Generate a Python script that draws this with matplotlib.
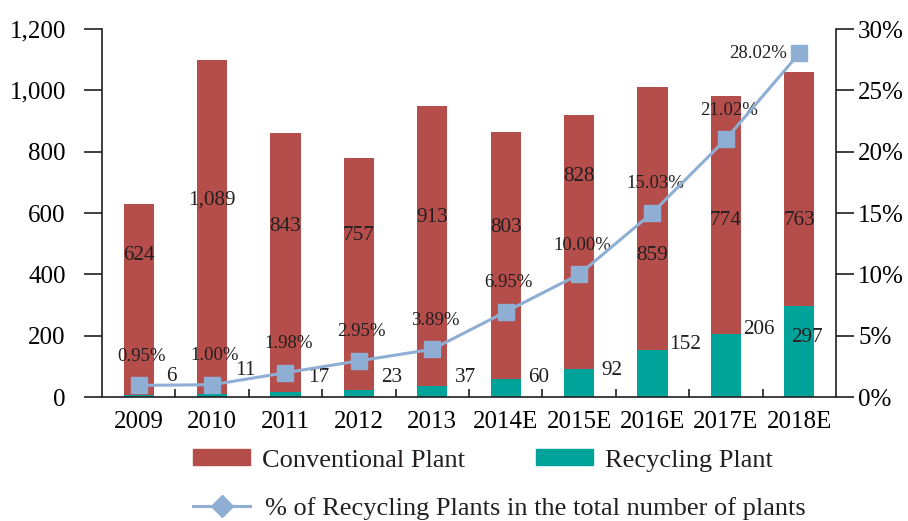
import matplotlib
matplotlib.use("Agg")
import matplotlib.pyplot as plt
import matplotlib.ticker as mtick
from matplotlib.patches import Patch
from matplotlib.lines import Line2D
import numpy as np

plt.rcParams['font.family'] = ['Liberation Serif', 'DejaVu Serif']
plt.rcParams['text.color'] = '#231f20'

# data
years = ['2009', '2010', '2011', '2012', '2013', '2014E', '2015E', '2016E', '2017E', '2018E']
conventional = [624, 1089, 843, 757, 913, 803, 828, 859, 774, 763]
recycling = [6, 11, 17, 23, 37, 60, 92, 152, 206, 297]
pct = [0.95, 1.00, 1.98, 2.95, 3.89, 6.95, 10.00, 15.03, 21.02, 28.02]

# where the labels sit (data units, as placed in the original)
conv_label_y = [460, 642, 557, 528, 584, 554, 720, 460, 577, 574]
rec_label_y = [68, 88, 62, 62, 62, 62, 88, 170, 220, 195]

red = '#b54d4b'
teal = '#00a39a'
blue = '#8eaed4'
dark = '#231f20'

fig = plt.figure(figsize=(9.08, 5.21), dpi=100)
ax = fig.add_axes([0.1123, 0.238, 0.8084, 0.7063])
ax2 = ax.twinx()

x = np.arange(len(years))
ax.bar(x, recycling, width=0.41, color=teal, zorder=2)
ax.bar(x, conventional, width=0.41, bottom=recycling, color=red, zorder=2)

ax.set_xlim(-0.5, len(years) - 0.5)
ax.set_ylim(0, 1200)
ax.yaxis.set_major_locator(mtick.MultipleLocator(200))
ax.yaxis.set_major_formatter(mtick.FuncFormatter(lambda v, p: f'{int(v):,}'))

# conventional labels
for i, v in enumerate(conventional):
    ax.text(x[i], conv_label_y[i], f'{v:,}', ha='center', va='center', fontsize=15.3, zorder=5)

# recycling labels, right of bars
for i, v in enumerate(recycling):
    dx = 0.1 if i == len(years) - 1 else 0.45
    ax.text(x[i] + dx, rec_label_y[i], str(v), ha='center', va='center', fontsize=15.3, zorder=5)

# percentage line
ax2.plot(x, pct, color=blue, lw=2.2, marker='s', markersize=11.5, zorder=4)
ax2.set_ylim(0, 30)
ax2.yaxis.set_major_locator(mtick.MultipleLocator(5))
ax2.yaxis.set_major_formatter(mtick.FuncFormatter(lambda v, p: f'{int(v)}%'))
for i, v in enumerate(pct):
    if i == len(pct) - 1:
        ax2.annotate(f'{v:.2f}%', (x[i], v), xytext=(-9, 0), textcoords='offset points',
                     ha='right', va='center', fontsize=13.5)
    else:
        ax2.annotate(f'{v:.2f}%', (x[i], v), xytext=(2, 21), textcoords='offset points',
                     ha='center', va='center', fontsize=13.5)

# ticks / spines
for a in (ax, ax2):
    a.spines['top'].set_visible(False)
    for s in a.spines.values():
        s.set_color(dark)
        s.set_linewidth(1.2)
ax.spines['right'].set_visible(False)
ax2.spines['left'].set_visible(False)
ax2.spines['bottom'].set_visible(False)

ax.set_xticks(x[:-1] + 0.5)
ax.set_xticklabels([])
ax.set_xticks(x, minor=True)
ax.set_xticklabels(years, minor=True, fontsize=18)
ax.tick_params(axis='x', which='major', direction='in', length=6, width=1.2, color=dark)
ax.tick_params(axis='x', which='minor', length=0, pad=10)
ax.tick_params(axis='y', direction='out', length=13, width=1.2, color=dark, labelsize=18, pad=13)
ax2.tick_params(axis='y', direction='out', length=13, width=1.2, color=dark, labelsize=18, pad=3)

# legends
h1 = [Patch(color=red), Patch(color=teal)]
leg1 = fig.legend(h1, ['Conventional Plant', 'Recycling Plant'], ncol=2, loc='upper left',
                  bbox_to_anchor=(0.2126, 0.138), frameon=False, fontsize=19,
                  handlelength=2.16, handleheight=0.57, handletextpad=0.45,
                  columnspacing=2.7, borderpad=0, borderaxespad=0)
h2 = [Line2D([0], [0], color=blue, lw=2.2, marker='D', markersize=11)]
leg2 = fig.legend(h2, ['% of Recycling Plants in the total number of plants'], loc='upper left',
                  bbox_to_anchor=(0.2126, 0.047), frameon=False, fontsize=19,
                  handlelength=2.16, handletextpad=0.57, borderpad=0, borderaxespad=0)

fig.savefig('out.png', dpi=100)
